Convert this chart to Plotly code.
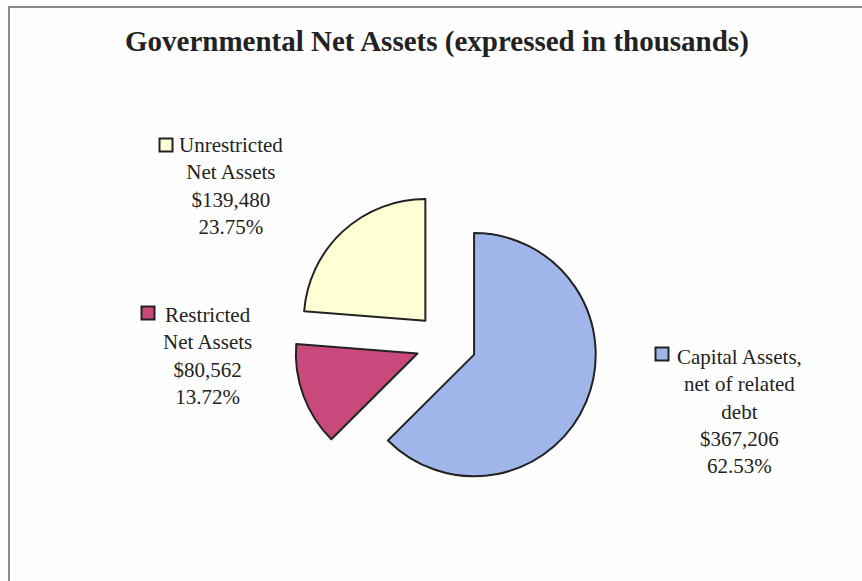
import plotly.graph_objects as go

# Governmental net assets, in thousands of dollars
categories = ["Capital Assets, net of related debt", "Restricted Net Assets", "Unrestricted Net Assets"]
amounts = [367206, 80562, 139480]
percents = ["62.53%", "13.72%", "23.75%"]
label_lines = [
    ["Capital Assets,", "net of related", "debt"],
    ["Restricted", "Net Assets"],
    ["Unrestricted", "Net Assets"],
]
colors = ["#a0b6ea", "#c9497c", "#ffffd6"]

W, H = 862, 581
SERIF = "Liberation Serif, Times New Roman, serif"


def px(x):
    return x / W


def py(y):
    return 1 - y / H


fig = go.Figure(
    go.Pie(
        labels=categories,
        values=amounts,
        sort=False,
        direction="clockwise",
        rotation=0,
        pull=[0.25, 0.25, 0.25],
        textinfo="none",
        hoverinfo="label+value+percent",
        marker=dict(colors=colors, line=dict(color="#222222", width=2)),
        domain=dict(x=[px(294), px(598)], y=[py(495), py(191)]),
        showlegend=False,
    )
)

# Data labels: name, amount and share, each with a small colour key
label_pos = [(739, 411), (207, 356), (231, 186)]
key_pos = [(662, 354), (148, 313), (166, 145)]
annotations = []
shapes = []
for lines, amt, pct, (lx, ly), (kx, ky), col in zip(
    label_lines, amounts, percents, label_pos, key_pos, colors
):
    text = "<br>".join(lines + [f"${amt:,}", pct])
    annotations.append(
        dict(
            x=px(lx), y=py(ly), xref="paper", yref="paper",
            xanchor="center", yanchor="middle", align="center",
            text=text, showarrow=False,
            font=dict(family=SERIF, size=21, color="#222222"),
        )
    )
    s = 6.5
    shapes.append(
        dict(
            type="rect", xref="paper", yref="paper",
            x0=px(kx - s), x1=px(kx + s), y0=py(ky + s), y1=py(ky - s),
            fillcolor=col, line=dict(color="#222222", width=2),
        )
    )

# Chart-area frame
shapes.append(
    dict(
        type="rect", xref="paper", yref="paper",
        x0=px(9), x1=px(W + 20), y0=py(H + 20), y1=py(7),
        line=dict(color="#8a8a8a", width=2), fillcolor="rgba(0,0,0,0)",
        layer="below",
    )
)

annotations.append(
    dict(
        x=px(437), y=py(41), xref="paper", yref="paper",
        xanchor="center", yanchor="middle",
        text="<b>Governmental Net Assets (expressed in thousands)</b>",
        showarrow=False,
        font=dict(family=SERIF, size=29, color="#222222"),
    )
)

fig.update_layout(
    width=W, height=H,
    margin=dict(l=0, r=0, t=0, b=0),
    paper_bgcolor="#fefefe",
    plot_bgcolor="#fefefe",
    annotations=annotations,
    shapes=shapes,
)

fig.write_html("out.html")
